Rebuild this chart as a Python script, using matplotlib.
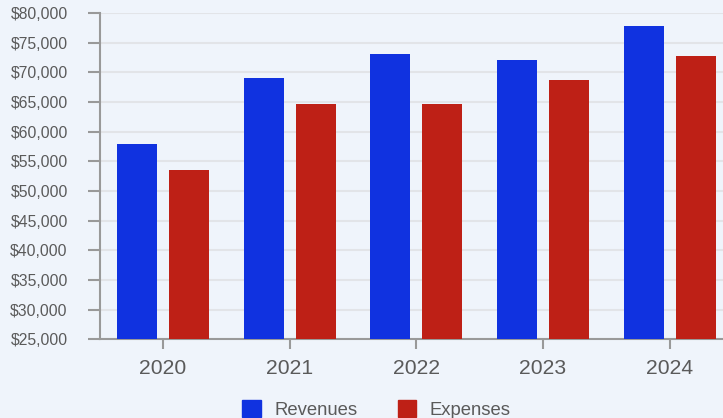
import matplotlib
matplotlib.use("Agg")
import matplotlib.pyplot as plt
import numpy as np
from matplotlib.patches import Patch
from matplotlib.ticker import FuncFormatter, MultipleLocator

years = ["2020", "2021", "2022", "2023", "2024"]
revenues = [57900, 69000, 73100, 72100, 77800]
expenses = [53500, 64700, 64700, 68700, 72750]

BG = "#eff4fb"
BLUE = "#1032e0"
RED = "#be2016"
TXT = "#5a5a5a"
AX = "#999999"
GRID = "#e2e4e8"

plt.rcParams["font.family"] = ["Liberation Sans", "DejaVu Sans"]

fig = plt.figure(figsize=(7.23, 4.18), dpi=100, facecolor=BG)
ax = fig.add_axes([99.5 / 723, (418 - 339.3) / 418, 633.5 / 723, 326.3 / 418])
ax.set_facecolor(BG)

x = np.arange(len(years))
w = 0.316
off = 0.205
ax.bar(x - off, revenues, w, color=BLUE, zorder=3, label="Revenues")
ax.bar(x + off, expenses, w, color=RED, zorder=3, label="Expenses")

ax.set_xlim(-0.5, 4.5)
ax.set_ylim(25000, 80000)
ax.yaxis.set_major_locator(MultipleLocator(5000))
ax.yaxis.set_major_formatter(FuncFormatter(lambda v, p: f"${v:,.0f}"))
ax.set_xticks(x)
ax.set_xticklabels(years)

ax.grid(axis="y", color=GRID, linewidth=1.5, zorder=0)
for s in ["top", "right"]:
    ax.spines[s].set_visible(False)
for s in ["left", "bottom"]:
    ax.spines[s].set_color(AX)
    ax.spines[s].set_linewidth(1.5)

ax.tick_params(axis="y", length=8.3, width=1.5, color=AX, pad=14.5,
               labelsize=11.3, labelcolor=TXT)
ax.tick_params(axis="x", length=7.2, width=1.5, color=AX, pad=7,
               labelsize=15.2, labelcolor=TXT)

handles = [Patch(color=BLUE, label="Revenues"), Patch(color=RED, label="Expenses")]
fig.legend(handles=handles, loc="center", bbox_to_anchor=(376.5 / 723, 1 - 409.3 / 418),
           ncol=2, frameon=False, fontsize=13.3, handlelength=1.0, handleheight=1.0,
           handletextpad=0.72, columnspacing=2.2, labelcolor=TXT)

fig.savefig("out.png", dpi=100, facecolor=BG)
